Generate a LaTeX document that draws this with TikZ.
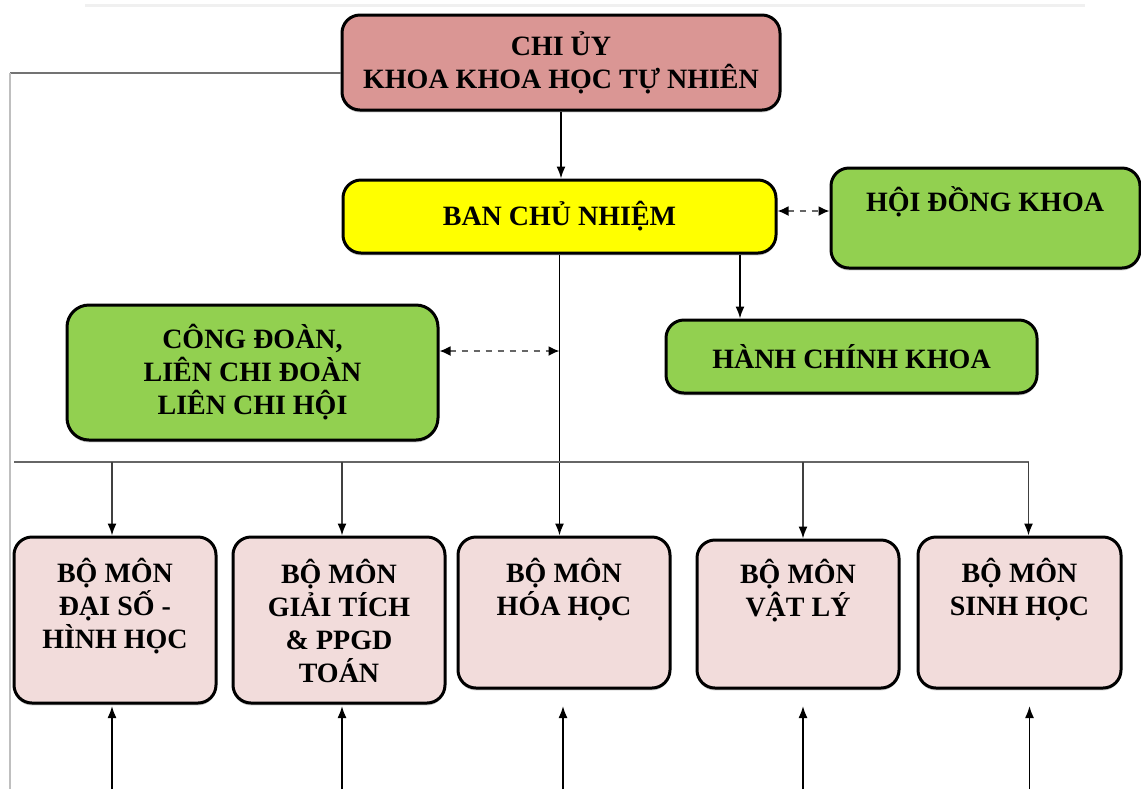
\documentclass[tikz,border=0pt]{standalone}
\usepackage{fontspec}
\setmainfont{Liberation Serif}
\usepackage{xcolor}
\usepackage{tikz}
\usetikzlibrary{shapes,arrows,arrows.meta,positioning,shadows}

\definecolor{chiuycol}{HTML}{DA9694}
\definecolor{bcncol}{HTML}{FFFF00}
\definecolor{greencol}{HTML}{92D050}
\definecolor{monhoccol}{HTML}{F2DCDB}

\begin{document}
\begin{tikzpicture}[x=0.5pt, y=-0.5pt, font=\bfseries\fontsize{14}{16.5}\selectfont]

\tikzstyle{unit} = [rectangle, rounded corners=9pt, line width=1.5pt, draw=black, text centered, align=center, drop shadow={shadow xshift=0pt, shadow yshift=-1.2pt, opacity=0.45}]
\tikzstyle{boxtext} = [align=center, inner sep=0pt]
\tikzstyle{arrow} = [line width=0.8pt, ->, >={Latex[length=6pt, width=4.5pt, color=black]}]
\tikzstyle{dasharrow} = [line width=0.9pt, <->, >={Latex[length=5.5pt, width=5pt, color=black]}, dashed, draw=black!60]
\tikzstyle{bus} = [line width=1pt, draw=black!60]

\useasboundingbox (0,0) rectangle (1141,789);
\draw[black!6, line width=1.5pt] (85,5) -- (1085,5);

\node (chiuy) [unit, fill=chiuycol, minimum width=219pt, minimum height=47.5pt] at (561,62.5) {CHI ỦY\\KHOA KHOA HỌC TỰ NHIÊN};
\node (bcn) [unit, fill=bcncol, minimum width=216.5pt, minimum height=36.5pt] at (559.5,216.5) {BAN CHỦ NHIỆM};
\node (hdk) [unit, fill=greencol, minimum width=154.5pt, minimum height=50pt] at (985.5,218) {};
\node (hdktxt) [boxtext] at (985,202) {HỘI ĐỒNG KHOA};
\node (congdoan) [unit, fill=greencol, rounded corners=11pt, minimum width=185.5pt, minimum height=67.5pt] at (252.5,372.5) {CÔNG ĐOÀN,\\LIÊN CHI ĐOÀN\\LIÊN CHI HỘI};
\node (hck) [unit, fill=greencol, minimum width=185.5pt, minimum height=36.5pt] at (851.5,356.5) {HÀNH CHÍNH KHOA};

% bo mon
\node (ds) [unit, fill=monhoccol, minimum width=101pt, minimum height=83pt] at (115,620) {};
\node (gt) [unit, fill=monhoccol, minimum width=106pt, minimum height=83pt] at (339,620) {};
\node (hh) [unit, fill=monhoccol, minimum width=106pt, minimum height=75.5pt] at (564,612.5) {};
\node (vl) [unit, fill=monhoccol, minimum width=101pt, minimum height=74pt] at (798,614) {};
\node (sh) [unit, fill=monhoccol, minimum width=101.5pt, minimum height=75.5pt] at (1019.5,612.5) {};
\node (dstxt) [boxtext] at (115,606) {BỘ MÔN\\ĐẠI SỐ -\\HÌNH HỌC};
\node (gttxt) [boxtext] at (339,621) {BỘ MÔN\\GIẢI TÍCH\\\& PPGD\\TOÁN};
\node (hhtxt) [boxtext] at (564,589.5) {BỘ MÔN\\HÓA HỌC};
\node (vltxt) [boxtext] at (798,591) {BỘ MÔN\\VẬT LÝ};
\node (shtxt) [boxtext] at (1019.5,589.5) {BỘ MÔN\\SINH HỌC};

\coordinate (lefttop) at (10,73);
\coordinate (busl) at (14,462);
\coordinate (bot) at (0,789);
\coordinate (tip) at (0,706);
\coordinate (hckx) at (740,0);
\coordinate (hdlink) at ([yshift=2.75pt]bcn.east);
\coordinate (cdlink) at ([yshift=10.75pt]congdoan.east);

\draw [black!55, line width=1pt] (chiuy.west |- lefttop) -- (lefttop);
\draw [black!25, line width=0.6pt] (lefttop) -- (lefttop |- bot);

\draw [arrow] (chiuy.south) -- (chiuy.south |- bcn.north);
\draw [dasharrow] (hdlink) -- (hdlink -| hdk.west);
\draw [arrow] (bcn.south -| hckx) -- (hckx |- hck.north);
\draw [arrow] (bcn.south) -- (bcn.south |- hh.north);
\draw [dasharrow] (cdlink) -- (cdlink -| bcn.south);

\foreach \n/\s in {ds/-1.5, gt/1.5, vl/2.5, sh/4.5}
  \coordinate (\n-in) at ([xshift=\s pt]\n.north);
\draw [bus] (busl) -- (sh-in |- busl);
\foreach \n in {ds, gt, vl, sh}
  \draw [arrow, draw=black!75] (\n-in |- busl) -- (\n-in);

\foreach \n/\s in {ds/-1.5, gt/1.5, hh/-0.5, vl/2.5, sh/5}{
  \coordinate (\n-out) at ([xshift=\s pt]\n.south);
  \draw [arrow] (\n-out |- bot) -- (\n-out |- tip);
}

\end{tikzpicture}
\end{document}
